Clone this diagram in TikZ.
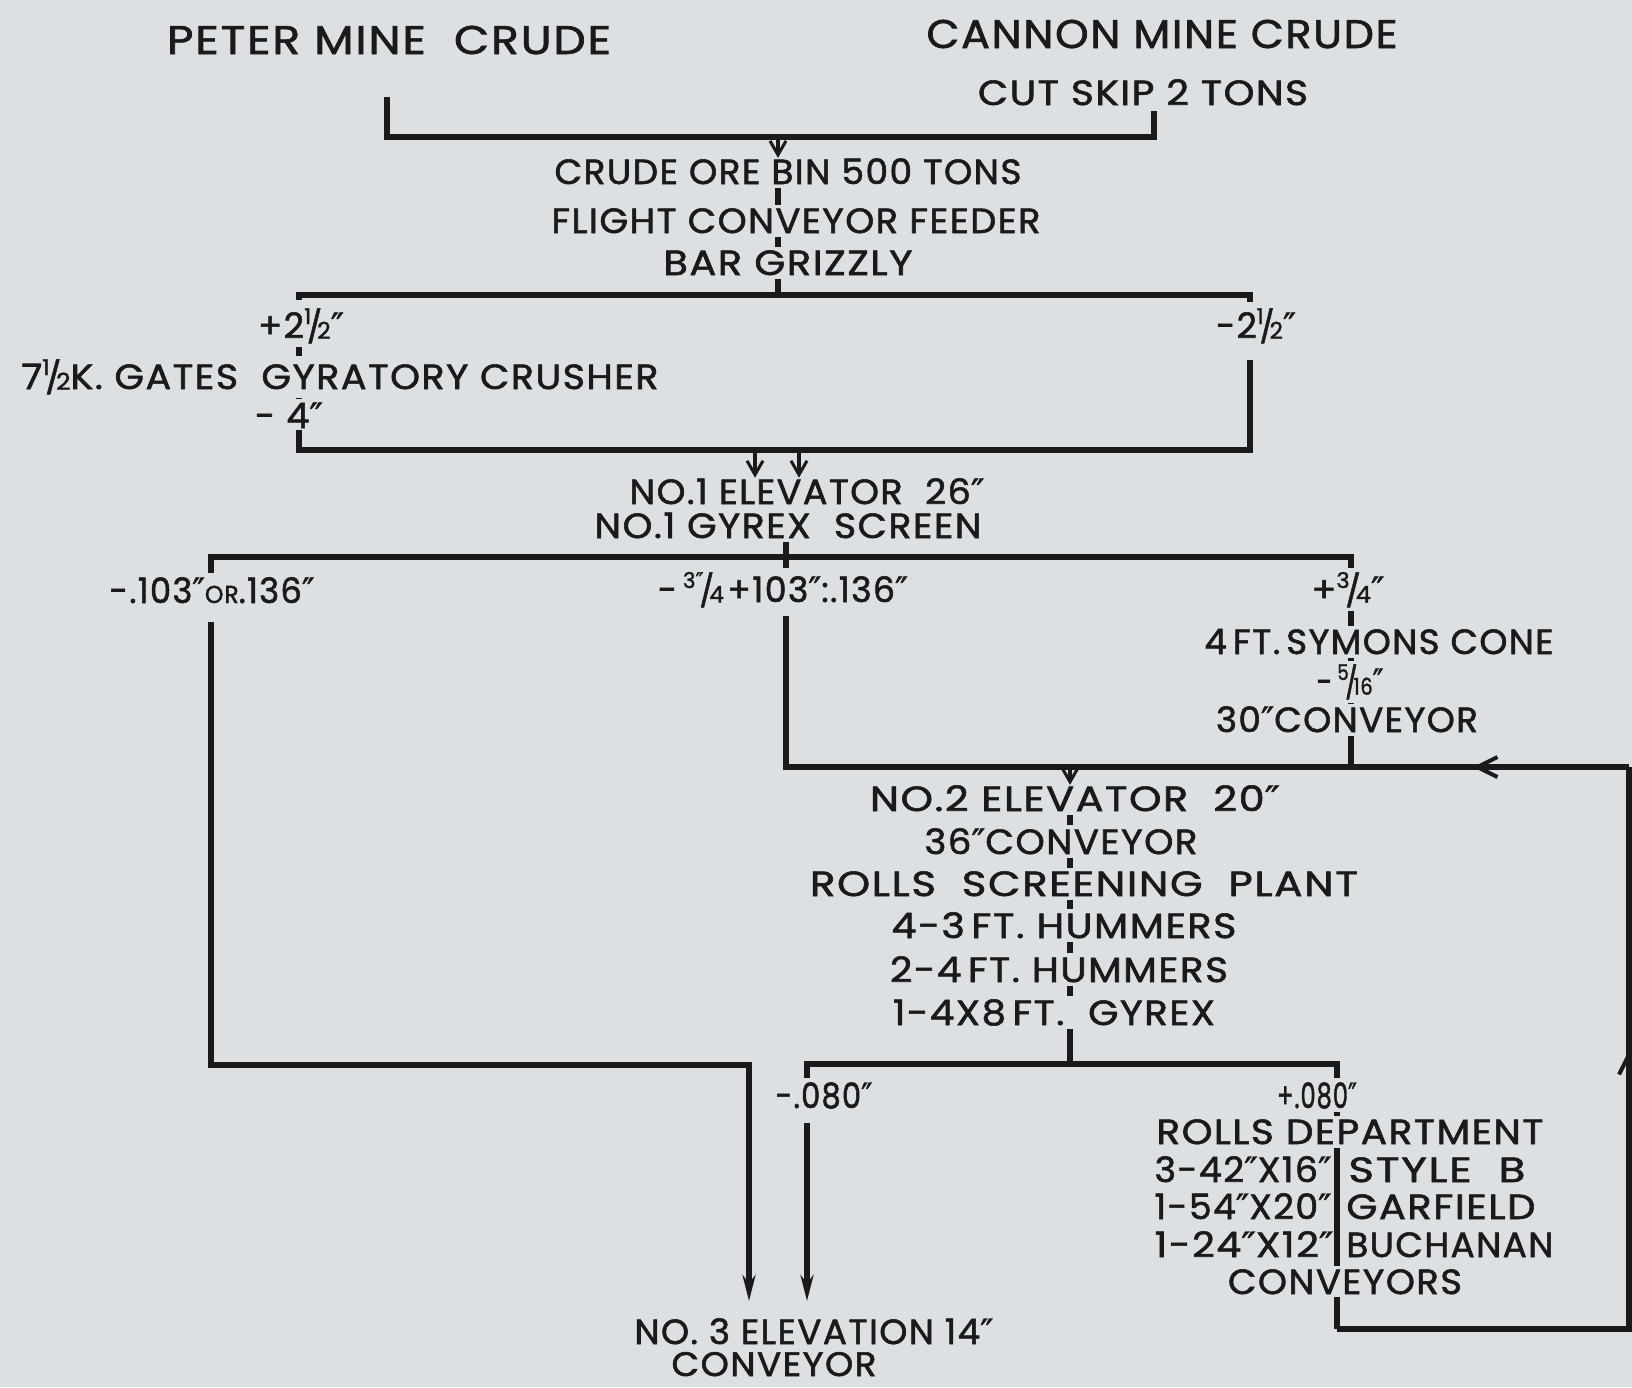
\documentclass[tikz,border=0pt]{standalone}
\usepackage{fontspec}
\usepackage{graphicx}
\setmainfont{Poppins}[LetterSpace=4, FakeBold=1.6]
\newfontfamily\djf{DejaVu Sans}[FakeBold=1.2]
\usetikzlibrary{arrows.meta}
\definecolor{paper}{HTML}{DCE0E3}
\definecolor{ink}{HTML}{1A1A1A}
\newcommand\inch{{\djf\char"2033}}
\newcommand\fr[2]{\raisebox{.40em}{\scalebox{.62}{#1}}\kern-.12em\scalebox{.9}{/}\kern-.14em\raisebox{-.02em}{\scalebox{.66}{#2}}}
\newcommand\T[2]{\resizebox{#1}{\height}{#2}}
\begin{document}
\begin{tikzpicture}[x=0.5pt,y=-0.5pt,
  lbl/.style={inner sep=0pt, anchor=base, text=ink, font=\fontsize{17.5}{20}\selectfont},
  head/.style={lbl, font=\fontsize{20}{24}\selectfont},
  lblE/.style={lbl, anchor=base east},
  lblW/.style={lbl, anchor=base west},
  flow/.style={draw=ink, line width=3pt, line join=miter},
  seg/.style={draw=ink, line width=2.8pt, shorten <=1.5pt, shorten >=1.5pt},
  thin/.style={draw=ink, line width=1.6pt},
  barb/.style={-{Straight Barb[length=7pt,width=8pt,line width=1.5pt]}},
  barbthick/.style={-{Straight Barb[length=10pt,width=10pt,line width=2pt]}},
  bigarrow/.style={-{Stealth[length=13pt,width=6.5pt]}}]
\fill[paper] (0,0) rectangle (1632,1387);
\useasboundingbox (0,0) rectangle (1632,1387);

% ---------- texts ----------
\node[head] (peter)  at (389,54)  {\T{222pt}{PETER\ MINE\ \ CRUDE}};
\node[head] (cannon) at (1162,48) {\T{235.5pt}{CANNON MINE CRUDE}};
\node[lbl] (skip)    at (1143,105) {\T{165pt}{CUT SKIP 2 TONS}};
\node[lbl] (orebin)  at (788,184) {\T{233.5pt}{CRUDE ORE BIN 500 TONS}};
\node[lbl] (feeder)  at (796,233) {\T{244.5pt}{FLIGHT CONVEYOR FEEDER}};
\node[lbl] (grizzly) at (788,275) {\T{124.5pt}{BAR GRIZZLY}};
\node[lbl] (p212)    at (301,338) {\T{43pt}{+2\fr{1}{2}\inch}};
\node[lbl] (gates)   at (340,389) {\T{318.5pt}{7\fr{1}{2}K. GATES\ \ GYRATORY CRUSHER}};
\node[lbl] (m4)      at (289,428) {\T{34pt}{-\ 4\inch}};
\node[lbl] (m212)    at (1256,338) {\T{40pt}{-2\fr{1}{2}\inch}};
\node[lbl] (elev1)   at (807,504) {\T{177.5pt}{NO.1 ELEVATOR\ \ 26\inch}};
\node[lbl] (gyrex1)  at (788,538) {\T{193.5pt}{NO.1 GYREX\ \ SCREEN}};
\node[lbl] (m103)    at (212,603) {\T{102.5pt}{-.103\inch{\scalebox{.7}{OR}}.136\inch}};
\node[lbl] (m34)     at (783,602) {\T{125pt}{-\,\fr{3\inch}{4}\kern.1em+103\inch:.136\inch}};
\node[lbl] (p34)     at (1348,602) {\T{36.5pt}{+\fr{3}{4}\inch}};
\node[lbl] (symons)  at (1379,654) {\T{174.5pt}{4\,FT.\,SYMONS CONE}};
\node[lbl] (m516)    at (1350,694) {\T{33.5pt}{-\,\fr{5}{16}\inch}};
\node[lbl] (conv30)  at (1347,732) {\T{131pt}{30\inch CONVEYOR}};
\node[lbl] (elev2)   at (1075,811) {\T{205pt}{NO.2 ELEVATOR\ \ 20\inch}};
\node[lbl] (conv36)  at (1061,854) {\T{136.5pt}{36\inch CONVEYOR}};
\node[lbl] (rsp)     at (1084,896) {\T{274pt}{ROLLS\ \ SCREENING\ \ PLANT}};
\node[lbl] (hum3)    at (1064,938) {\T{172.5pt}{4-3\,FT. HUMMERS}};
\node[lbl] (hum4)    at (1059,982) {\T{169pt}{2-4\,FT. HUMMERS}};
\node[lbl] (gyrex2)  at (1054,1025) {\T{161pt}{1-4X8\,FT.\ \ GYREX}};
\node[lbl] (m080)    at (824,1108) {\T{48.5pt}{-.080\inch}};
\node[lbl] (p080)    at (1317,1108) {\T{40pt}{+.080\inch}};
\node[lbl] (rdept)   at (1350,1144) {\T{193.5pt}{ROLLS DEPARTMENT}};
\node[lblE] (r1a)    at (1332,1182) {\T{88.5pt}{3-42\inch X16\inch}};
\node[lblW] (r1b)    at (1348,1182) {\T{88.5pt}{STYLE\ \ B}};
\node[lblE] (r2a)    at (1332,1219) {\T{88.5pt}{1-54\inch X20\inch}};
\node[lblW] (r2b)    at (1346,1219) {\T{94.5pt}{GARFIELD}};
\node[lblE] (r3a)    at (1334,1257) {\T{89.5pt}{1-24\inch X12\inch}};
\node[lblW] (r3b)    at (1346,1257) {\T{103.5pt}{BUCHANAN}};
\node[lbl] (convs)   at (1345,1294) {\T{117pt}{CONVEYORS}};
\node[lbl] (elev3)   at (814,1344) {\T{179.5pt}{NO. 3 ELEVATION 14\inch}};
\node[lbl, font=\fontsize{17}{20}\selectfont] (conv3) at (774,1376) {\T{102.5pt}{CONVEYOR}};

% ---------- coordinates ----------
\coordinate (p0) at (387,97);
\coordinate (p1) at (387,137);
\coordinate (c1) at (1154,137);
\coordinate (c0) at (1154,111);
\coordinate (j1) at (778,137);
\coordinate (j2) at (778,295);
\coordinate (g1) at (299,295);
\coordinate (g2) at (1250,295);
\coordinate (h1) at (299,450);
\coordinate (h2) at (1250,450);
\coordinate (a1) at (755,450);
\coordinate (a2) at (799,450);
\coordinate (k0) at (786,557);
\coordinate (k1) at (211,557);
\coordinate (k2) at (1351,557);
\coordinate (L1) at (211,1065);
\coordinate (L2) at (749,1065);
\coordinate (L3) at (749,1301);
\coordinate (r0) at (786,767);
\coordinate (n0) at (1070,767);
\coordinate (n1) at (1070,1064);
\coordinate (q1) at (807,1064);
\coordinate (q2) at (1337,1064);
\coordinate (q3) at (807,1301);
\coordinate (s0) at (1351,767);
\coordinate (fbL) at (1337,1329);
\coordinate (fbR) at (1629,1329);
\coordinate (fbT) at (1629,767);
\coordinate (arrL) at (1473,767);
\coordinate (arrU) at (1629,1050);

% ---------- top ----------
\draw[flow] (p0) -- (p1) -- (c1) -- (c0);
\draw[thin,barb] (j1) -- (orebin.north -| j1);
\draw[seg] (orebin.south -| j1) -- (feeder.north -| j1);
\draw[seg] (feeder.south -| j1) -- (grizzly.north -| j1);
\draw[seg,shorten >=0pt] (grizzly.south -| j1) -- (j2);

% ---------- grizzly split ----------
\draw[flow] ([yshift=4pt]p212.north -| g1) -- (g1) -- (g2) -- ([yshift=3pt]m212.north -| g2);
\draw[seg] (p212.south -| g1) -- (gates.north -| g1);
\draw[seg] (gates.south -| g1) -- (m4.north -| g1);
\draw[flow] ([yshift=-1pt]m4.south -| g1) -- (h1) -- (h2) -- ([yshift=-8pt]m212.south -| g2);
\draw[thin,barb] (a1) -- (elev1.north -| a1);
\draw[thin,barb] (a2) -- (elev1.north -| a2);

% ---------- gyrex screen split ----------
\draw[seg,shorten >=0pt] (gyrex1.south -| k0) -- (k0);
\draw[flow] ([yshift=2pt]m103.north -| k1) -- (k1) -- (k2) -- ([yshift=2pt]p34.north -| k2);
\draw[flow] ([yshift=2pt]m34.north -| k0) -- (k0);
\draw[flow,bigarrow] ([yshift=-9pt]m103.south -| k1) -- (L1) -- (L2) -- (L3);
\draw[flow] ([yshift=-4pt]m34.south -| k0) -- (r0) -- (fbT);
\draw[seg] (p34.south -| k2) -- (symons.north -| k2);
\draw[seg] (symons.south -| k2) -- (m516.north -| k2);
\draw[seg] (m516.south -| k2) -- (conv30.north -| k2);
\draw[seg,shorten >=0pt] (conv30.south -| k2) -- (s0);

% ---------- feedback loop ----------
\draw[flow] (fbL) -- (fbR) -- (fbT);
\draw[flow,barbthick] (fbT) -- (arrL);
\draw[flow,barbthick] (fbR) -- (arrU);

% ---------- no.2 elevator column ----------
\draw[thin,barb] (n0) -- (elev2.north -| n0);
\draw[seg] (elev2.south -| n0) -- (conv36.north -| n0);
\draw[seg] (conv36.south -| n0) -- (rsp.north -| n0);
\draw[seg] (rsp.south -| n0) -- (hum3.north -| n0);
\draw[seg] (hum3.south -| n0) -- (hum4.north -| n0);
\draw[seg] (hum4.south -| n0) -- (gyrex2.north -| n0);
\draw[seg,shorten >=0pt] (gyrex2.south -| n0) -- (n1);

% ---------- .080 split ----------
\draw[flow] ([yshift=2pt]m080.north -| q1) -- (q1) -- (q2) -- ([yshift=2pt]p080.north -| q2);
\draw[flow,bigarrow] ([yshift=-7pt]m080.south -| q1) -- (q3);
\draw[seg] (p080.south -| q2) -- (rdept.north -| q2);
\draw[seg] (rdept.south -| q2) -- (convs.north -| q2);
\draw[flow] ([yshift=-1pt]convs.south -| q2) -- (fbL);
\end{tikzpicture}
\end{document}
